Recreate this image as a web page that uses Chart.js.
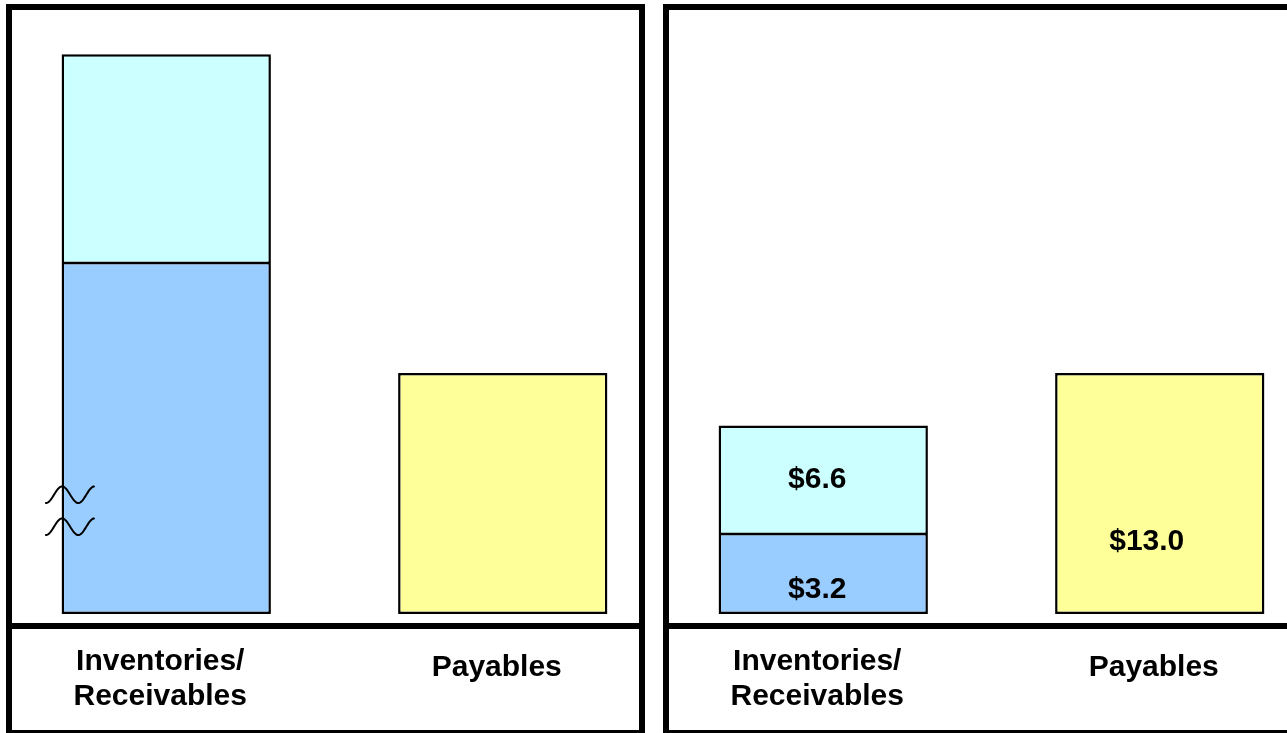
<!DOCTYPE html>
<html>
<head>
<meta charset="utf-8">
<script src="https://cdn.jsdelivr.net/npm/chart.js@4.4.0/dist/chart.umd.min.js"></script>
<style>
  html, body { margin: 0; padding: 0; background: #fff; overflow: hidden; }
  body { width: 1287px; height: 733px; position: relative; }
  .panel { position: absolute; top: 4px; height: 720px; border: 6px solid #000; background: #fff; overflow: hidden; }
  #leftPanel { left: 6px; width: 627px; }
  #rightPanel { left: 663px; width: 700px; }
  .panel canvas { position: absolute; left: -14px; top: 0; }
</style>
</head>
<body>
<div class="panel" id="leftPanel"><canvas id="before" width="673" height="720"></canvas></div>
<div class="panel" id="rightPanel"><canvas id="after" width="673" height="720"></canvas></div>
<script>
// categories along the bottom
const categories = [['Inventories/', 'Receivables'], 'Payables'];

// left panel (broken scale, no value labels)
const beforeInventories = [19.7, null];
const beforeReceivables = [12.7, null];
const beforePayables = [null, 13.0];

// right panel
const afterInventories = [3.2, null];
const afterReceivables = [6.6, null];
const afterPayables = [null, 13.0];

// value axis range and where the bars sit on it
const axisMin = -2.4;
const axisMax = 35.1;
const barBase = -1.67;

const FONT = 'Arial, "Liberation Sans", Helvetica, sans-serif';

// prints "$x.x" inside each bar segment
const valueLabels = {
  id: 'valueLabels',
  afterDatasetsDraw(chart, args, opts) {
    const ctx = chart.ctx;
    ctx.save();
    ctx.fillStyle = '#000';
    ctx.font = 'bold 30px ' + FONT;
    ctx.textAlign = 'center';
    ctx.textBaseline = 'middle';
    chart.data.datasets.forEach((ds, i) => {
      const meta = chart.getDatasetMeta(i);
      const place = opts.place[i];
      meta.data.forEach((bar, j) => {
        const v = ds.data[j];
        if (v === null || v === undefined) return;
        const y = bar.base - place.frac * (bar.base - bar.y);
        ctx.fillText('$' + v.toFixed(1), bar.x + place.dx, y);
      });
    });
    ctx.restore();
  }
};

// two wavy break marks on the left edge of the tall bar
const breakMarks = {
  id: 'breakMarks',
  afterDatasetsDraw(chart) {
    const bar = chart.getDatasetMeta(0).data[0];
    const ctx = chart.ctx;
    const x0 = bar.x - bar.width / 2 + 0.5;
    const period = 32.3, amp = 8.3;
    ctx.save();
    ctx.strokeStyle = '#000';
    ctx.lineWidth = 2;
    ctx.lineCap = 'round';
    [119.3, 87.3].forEach(up => {
      const cy = bar.base - up;
      ctx.beginPath();
      for (let x = x0 - period / 2; x <= x0 + period; x += 0.5) {
        const y = cy - amp * Math.cos(2 * Math.PI * (x - x0) / period);
        if (x === x0 - period / 2) ctx.moveTo(x, y); else ctx.lineTo(x, y);
      }
      ctx.stroke();
    });
    ctx.restore();
  }
};

function makeChart(id, inv, rec, pay, extraPlugins) {
  return new Chart(document.getElementById(id), {
    type: 'bar',
    data: {
      labels: categories,
      datasets: [
        {
          label: 'Inventories',
          data: inv,
          backgroundColor: '#99CCFF',
          borderColor: '#000',
          borderWidth: { top: 1.5, left: 2.5, right: 2.5, bottom: 2.5 },
          borderSkipped: false,
          base: barBase
        },
        {
          label: 'Receivables',
          data: rec,
          backgroundColor: '#CCFFFF',
          borderColor: '#000',
          borderWidth: { top: 2.5, left: 2.5, right: 2.5, bottom: 1.5 },
          borderSkipped: false
        },
        {
          label: 'Payables',
          data: pay,
          backgroundColor: '#FFFF99',
          borderColor: '#000',
          borderWidth: 2.5,
          borderSkipped: false,
          base: barBase
        }
      ]
    },
    options: {
      responsive: false,
      animation: false,
      layout: { padding: 0 },
      datasets: { bar: { categoryPercentage: 1, barPercentage: 0.622 } },
      plugins: {
        legend: { display: false },
        tooltip: { enabled: false },
        valueLabels: {
          place: [
            { frac: 0.3, dx: -6 },
            { frac: 0.5, dx: -6 },
            { frac: 0.3, dx: -13 }
          ]
        }
      },
      scales: {
        x: {
          stacked: true,
          grid: { display: false, drawTicks: false },
          border: { display: true, color: '#000', width: 6 },
          ticks: {
            color: '#000',
            padding: 18,
            labelOffset: -6,
            maxRotation: 0,
            autoSkip: false,
            font: c => ({
              family: FONT,
              size: 30,
              weight: 'bold',
              lineHeight: Array.isArray(c.tick && c.tick.label) ? '35px' : '47px'
            })
          },
          afterFit: s => { s.height = 104; }
        },
        y: {
          stacked: true,
          display: false,
          min: axisMin,
          max: axisMax
        }
      }
    },
    plugins: extraPlugins
  });
}

makeChart('before', beforeInventories, beforeReceivables, beforePayables, [breakMarks]);
makeChart('after', afterInventories, afterReceivables, afterPayables, [valueLabels]);
</script>
</body>
</html>
